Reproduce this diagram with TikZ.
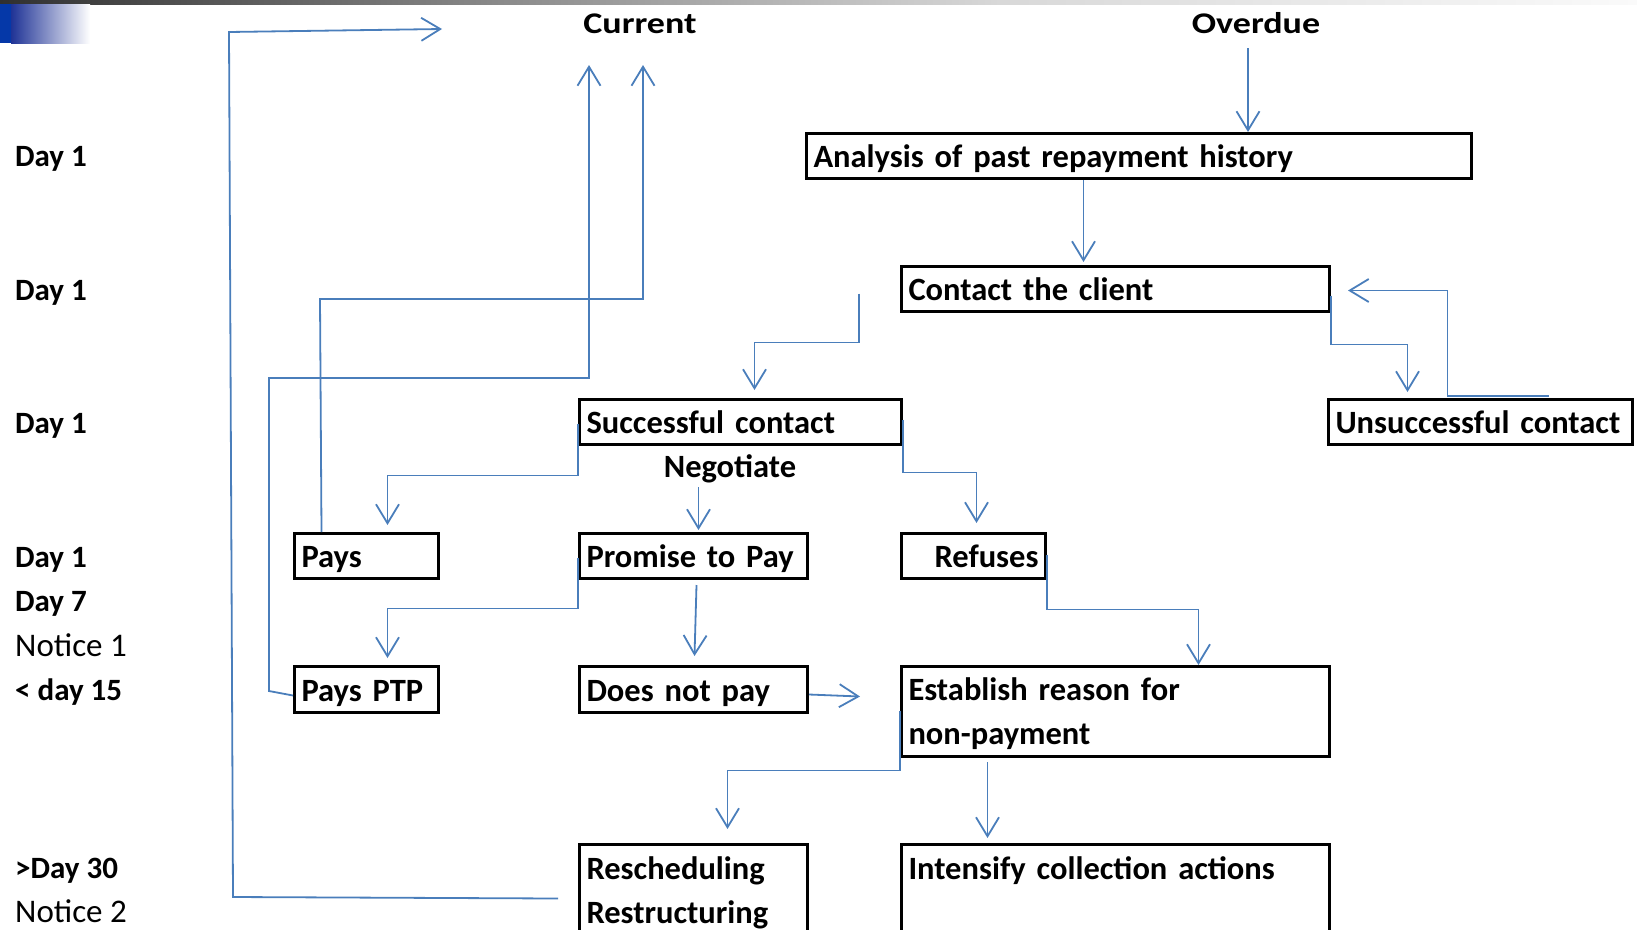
\documentclass[tikz,border=0pt]{standalone}
\usepackage{fontspec}
\setmainfont{Carlito}
\newfontfamily\tightfam[WordSpace=0.72]{Carlito}
\usepackage{graphicx}
\usetikzlibrary{arrows.meta}

\definecolor{link}{HTML}{4A7EBB}
\definecolor{bandA}{HTML}{303030}
\definecolor{bandB}{HTML}{8A8A8A}
\definecolor{bandC}{HTML}{D8D8D8}
\definecolor{bandD}{HTML}{FAFAFA}
\definecolor{tabblue}{HTML}{0538A8}
\definecolor{tabnavy}{HTML}{1F3396}

\newcommand\boxfont{\tightfam\fontsize{32.5}{44}\selectfont\bfseries}
\newcommand\labfont{\fontsize{31}{36}\selectfont\bfseries}
\newcommand\notefont{\fontsize{33}{38}\selectfont}
\newcommand\headfont{\fontsize{30}{36}\selectfont\bfseries}
\newcommand\wide[1]{\scalebox{1.2}[1]{#1}}

\begin{document}
\begin{tikzpicture}[x=1pt,y=-1pt,
  box/.style={draw=black, line width=3pt, anchor=north west, inner xsep=7pt,
    inner ysep=0pt, align=left, font=\boxfont, text height=23pt, text depth=0pt},
  tall/.style={text depth=45pt},
  arr/.style={draw=link, line width=1.8pt,
    -{Straight Barb[length=19pt,width=23pt]}},
  lab/.style={anchor=base west, inner sep=0pt, font=\labfont},
  note/.style={anchor=base west, inner sep=0pt, font=\notefont},
  head/.style={anchor=base, inner sep=0pt, font=\headfont},
  midlab/.style={anchor=base, inner sep=0pt, font=\boxfont}]
\useasboundingbox (0,0) rectangle (1637,929);

% header band and tab
\shade[left color=bandA, right color=bandB] (0,0) rectangle (500,4);
\shade[left color=bandB, right color=bandC] (500,0) rectangle (1000,4);
\shade[left color=bandC, right color=bandD] (1000,0) rectangle (1637,4);
\fill[tabblue] (0,4) rectangle (11,43);
\shade[left color=tabnavy, right color=white] (11,4) rectangle (90,43);

% column headings
\node[head] (cur) at (640,33) {\wide{Current}};
\node[head] (over) at (1256,33) {\wide{Overdue}};

% time line on the left
\node[lab] (d1a) at (15,166) {Day 1};
\node[lab] (d1b) at (15,300) {Day 1};
\node[lab] (d1c) at (15,433) {Day 1};
\node[lab] (d1d) at (15,567) {Day 1};
\node[lab] (d7) at (15,611) {Day 7};
\node[note] (n1) at (15,656) {Notice 1};
\node[lab] (d15) at (15,700) {< day 15};
\node[lab] (d30) at (15,878) {>Day 30};
\node[note] (n2) at (15,922) {Notice 2};

% process steps
\node[box, minimum width=665pt, minimum height=45pt, text width=651pt] (ana) at (805,132) {Analysis of past repayment history};
\node[box, minimum width=428pt, minimum height=45pt, text width=414pt] (cont) at (900,265) {Contact the client};
\node[box, minimum width=322pt, minimum height=45pt, text width=308pt] (succ) at (578,398) {Successful contact};
\node[box, minimum width=304pt, minimum height=45pt, text width=290pt] (unsu) at (1327,398) {Unsuccessful contact};
\node[midlab] (neg) at (730,477) {Negotiate};
\node[box, minimum width=144pt, minimum height=45pt, text width=130pt] (pays) at (293,532) {Pays};
\node[box, minimum width=228pt, minimum height=45pt, text width=214pt] (ptp) at (578,532) {Promise to Pay};
\node[box, minimum width=144pt, minimum height=45pt, text width=130pt, align=right] (ref) at (900,532) {Refuses};
\node[box, minimum width=144pt, minimum height=46pt, text width=130pt] (pptp) at (293,665) {Pays PTP};
\node[box, minimum width=228pt, minimum height=46pt, text width=214pt] (dnp) at (578,665) {Does not pay};
\node[box, tall, minimum width=428pt, minimum height=90pt, text width=414pt] (est) at (900,665) {Establish reason for\\non-payment};
\node[box, tall, minimum width=228pt, minimum height=92pt, text width=214pt] (resch) at (578,843) {Rescheduling\\Restructuring};
\node[box, tall, minimum width=428pt, minimum height=92pt, text width=414pt] (inten) at (900,843) {Intensify collection actions};

% free ends of the return paths
\coordinate (curA) at (589,65);
\coordinate (curB) at (643,65);
\coordinate (loopE) at (442,29);
\coordinate (ovS) at (1248,48);

% connectors
\draw[arr] ([xshift=-20pt,yshift=-8pt]resch.west) -- (233,897) -- (229,32) -- (loopE);
\draw[arr] ([xshift=-45pt]pays.north) -- (320,299) -- (643,299) -- (curB);
\draw[arr] ([yshift=-6pt]pptp.west) -- (269,691) -- (269,378) -- (589,378) -- (curA);
\draw[arr] (ovS) -- (ovS |- ana.north);
\draw[arr] ([xshift=-55.5pt]ana.south) -- ([xshift=-32pt,yshift=3pt]cont.north);
\draw[arr] ([xshift=-41pt,yshift=-4.5pt]cont.west) -- ++(0,49) -| ([xshift=14pt,yshift=8pt]succ.north);
\draw[arr] ([yshift=-6.5pt]cont.east) -- ++(0,49) -| ([xshift=-73pt,yshift=6pt]unsu.north);
\draw[arr] ([xshift=68pt,yshift=2pt]unsu.north) -- ++(-101,0) |- ([xshift=17pt,yshift=-1.5pt]cont.east);
\draw[arr] ([yshift=-1.5pt]succ.west) -- ++(0,52) -| ([xshift=21pt,yshift=7pt]pays.north);
\draw[arr] ([xshift=5pt,yshift=45pt]ptp.north) -- ([xshift=5pt,yshift=2pt]ptp.north);
\draw[arr] ([yshift=2.5pt]succ.east) -- ++(0,53) -| ([xshift=3pt,yshift=9pt]ref.north);
\draw[arr] ([yshift=-1.5pt]ptp.west) -- ++(0,51) -| ([xshift=21pt,yshift=7pt]pptp.north);
\draw[arr] ([xshift=3pt,yshift=-5pt]ptp.south) -- ([xshift=1pt,yshift=9pt]dnp.north);
\draw[arr] ([yshift=-5pt]dnp.east) -- ([xshift=-40pt,yshift=15pt]est.west);
\draw[arr] ([yshift=1.5pt]ref.east) -- ++(0,55) -| ([xshift=83pt]est.north);
\draw[arr] ([yshift=1pt]est.west) -- ++(0,60) -| ([xshift=34pt,yshift=14pt]resch.north);
\draw[arr] ([xshift=-128pt,yshift=-4pt]est.south) -- ([xshift=-128pt,yshift=5pt]inten.north);
\end{tikzpicture}
\end{document}
